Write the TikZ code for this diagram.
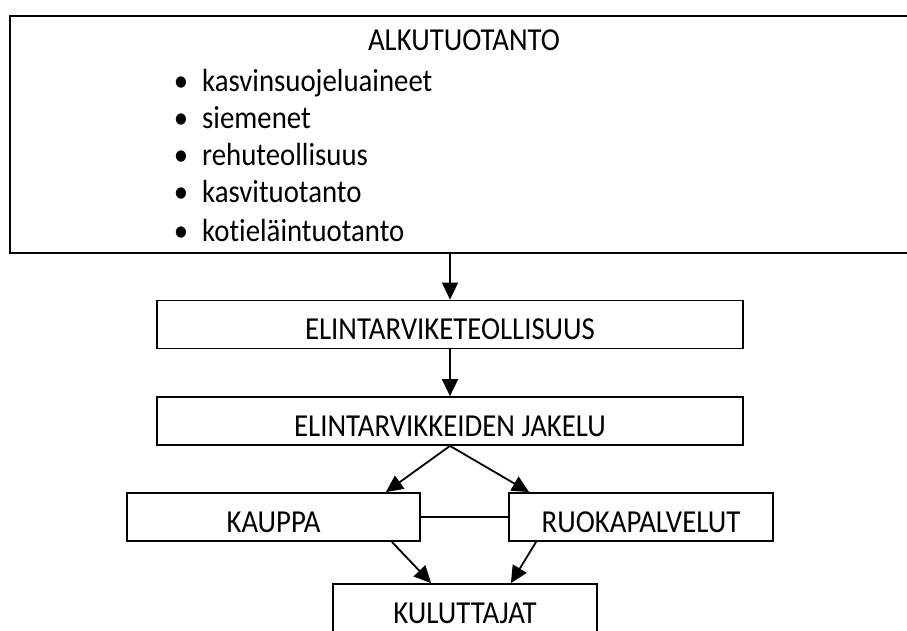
\documentclass[tikz,border=0pt]{standalone}
\usepackage{fontspec}
\setmainfont{Carlito}[Ligatures=NoCommon, FakeStretch=0.9]
\usetikzlibrary{arrows.meta}

\begin{document}
\begin{tikzpicture}[x=1pt, y=-1pt,
    font=\fontsize{32}{38}\selectfont,
    box/.style={draw, line width=1.8pt, inner sep=0pt, text height=39.3pt, text depth=8.7pt},
    flow/.style={-{Triangle[length=17pt, width=16pt]}, line width=1.8pt}]
    \useasboundingbox (0,0) rectangle (907,631);
    \clip (0,0) rectangle (907,631);

    % Alkutuotanto
    \node[draw, line width=2.2pt, inner sep=0pt, minimum width=908pt, minimum height=237pt] (alku) at (464,134.2) {};
    \node[anchor=base, inner sep=0pt] (alkutitle) at (464,51) {ALKUTUOTANTO};
    \foreach \y/\txt [count=\i] in {83/kasvinsuojeluaineet, 120/siemenet, 157/rehuteollisuus, 194/kasvituotanto, 232/kotieläintuotanto} {
        \node[anchor=base, inner sep=0pt] (bullet\i) at (181,\y+9) {\textbullet};
        \node[anchor=base west, inner sep=0pt] (item\i) at (202,\y+9) {\txt};
    }

    % Ketju
    \node[box, minimum width=586pt] (teoll) at (450,324.5) {ELINTARVIKETEOLLISUUS};
    \node[box, minimum width=586pt] (jakelu) at (450,421) {ELINTARVIKKEIDEN JAKELU};
    \node[box, minimum width=293pt] (kauppa) at (273.5,517) {KAUPPA};
    \node[box, minimum width=264pt] (ruoka) at (641,517) {RUOKAPALVELUT};
    \node[box, minimum width=264pt] (kulut) at (465,608) {KULUTTAJAT};

    % Nuolet
    \draw[flow] (teoll.north |- alku.south) -- (teoll.north);
    \draw[flow] (teoll.south) -- (jakelu.north);
    \draw[flow] (jakelu.south) -- ([xshift=-35pt]kauppa.north east);
    \draw[flow] (jakelu.south) -- ([xshift=21pt]ruoka.north west);
    \draw[line width=1.8pt] (kauppa.east) -- (ruoka.west);
    \draw[flow] ([xshift=-29pt]kauppa.south east) -- ([xshift=99pt]kulut.north west);
    \draw[flow] ([xshift=28pt]ruoka.south west) -- ([xshift=-87pt]kulut.north east);
\end{tikzpicture}
\end{document}
